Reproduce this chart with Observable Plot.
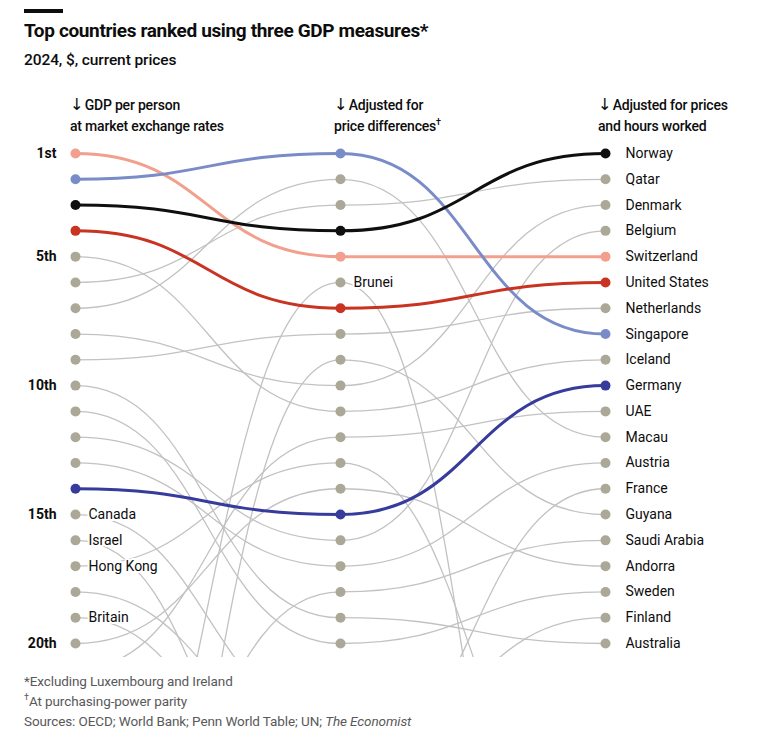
<!DOCTYPE html>
<html><head><meta charset="utf-8">
<script src="https://cdn.jsdelivr.net/npm/d3@7"></script>
<script src="https://cdn.jsdelivr.net/npm/@observablehq/plot@0.6"></script>
<style>
body{margin:0;background:#fff;font-family:Roboto,"Noto Sans",sans-serif;color:#0d0d0d}
#wrap{position:relative;width:760px;height:754px;overflow:hidden;background:#fff}
.abs{position:absolute;white-space:nowrap}
.hdr{font-size:14px;font-weight:500;line-height:21px;letter-spacing:-0.2px}
.arr{font-family:"DejaVu Sans",sans-serif;font-size:16.5px;font-weight:400;margin-right:1px;line-height:0}
.foot{font-size:13.5px;color:#595959;line-height:20px;letter-spacing:-0.1px}
sup{font-size:9px;vertical-align:6px;line-height:0}
#chart{position:absolute;left:0;top:140px}
</style></head><body><div id="wrap">
<div class="abs" style="left:24px;top:9px;width:39px;height:4px;background:#0d0d0d"></div>
<div class="abs" style="left:24px;top:19px;font-size:19px;font-weight:700;letter-spacing:-0.35px">Top countries ranked using three GDP measures*</div>
<div class="abs" style="left:24px;top:51px;font-size:15.5px;font-weight:500;letter-spacing:-0.1px">2024, $, current prices</div>
<div class="abs hdr" style="left:70px;top:95px"><span class="arr">↓</span>GDP per person<br>at market exchange rates</div>
<div class="abs hdr" style="left:334px;top:95px"><span class="arr">↓</span>Adjusted for<br>price differences<sup>†</sup></div>
<div class="abs hdr" style="left:598px;top:95px"><span class="arr">↓</span>Adjusted for prices<br>and hours worked</div>
<div id="chart"></div>
<div class="abs foot" style="left:24px;top:671px">*Excluding Luxembourg and Ireland<br><sup>†</sup>At purchasing-power parity<br>Sources: OECD; World Bank; Penn World Table; UN; <i>The Economist</i></div>
</div>
<script>
// Countries and their rank in each of the three measures (ranks > 20 run off the bottom)
const countries = ["Switzerland","Singapore","Norway","United States","Iceland","Qatar","Macau","Denmark","Netherlands","Australia","Sweden","Belgium","Austria","Germany","Canada","Israel","Hong Kong","Finland","Britain","Andorra","UAE","France","Saudi Arabia","Brunei","Guyana"];
const rankMarket = [1,2,3,4,5,6,7,8,9,10,11,12,13,14,15,16,17,18,19,20,21,22,29,31,38];
const rankPPP    = [5,1,4,7,11,3,2,10,8,19,20,16,17,15,23,29,13,24,27,14,12,25,18,6,9];
const rankHours  = [5,8,1,6,9,2,12,3,7,20,18,4,13,10,24,30,28,19,26,17,11,14,16,40,15];
const highlight = ["Switzerland","Singapore","Norway","United States","Germany"];
const highlightColors = ["#f2a08d","#7a8cc8","#0f0f0f","#c83322","#373c9c"];
const leftLabels = ["Canada","Israel","Hong Kong","Britain"];
const midLabels = ["Brunei"];
const rankTicks = [1,5,10,15,20];
const rankTickLabels = ["1st","5th","10th","15th","20th"];

const colorOf = c => { const i = highlight.indexOf(c); return i < 0 ? null : highlightColors[i]; };
const ranks = countries.map((c,i) => [rankMarket[i], rankPPP[i], rankHours[i]]);
const segs = [];
countries.forEach((c,i) => { for (let k = 0; k < 2; k++) segs.push({c, x1:k, x2:k+1, y1:ranks[i][k], y2:ranks[i][k+1]}); });
const pts = [];
countries.forEach((c,i) => ranks[i].forEach((r,k) => { if (r <= 20) pts.push({c, x:k, y:r}); }));
const graySegs = segs.filter(d => !colorOf(d.c));
const colSegs = segs.filter(d => colorOf(d.c));
const grayPts = pts.filter(d => !colorOf(d.c));
const colPts = pts.filter(d => colorOf(d.c));
const rightLab = pts.filter(d => d.x === 2);
const leftLab = pts.filter(d => d.x === 0 && leftLabels.includes(d.c));
const midLab = pts.filter(d => d.x === 1 && midLabels.includes(d.c));

const chart = Plot.plot({
  width: 760, height: 525,
  marginTop: 0, marginBottom: 8, marginLeft: 0, marginRight: 0,
  x: {type: "linear", domain: [0, 2], range: [75, 605], axis: null},
  y: {type: "linear", domain: [1, 20], range: [13, 503], axis: null},
  color: {type: "identity"},
  style: {fontFamily: "Roboto, 'Noto Sans', sans-serif", fontSize: "14px", background: "white", color: "#0d0d0d"},
  marks: [
    Plot.link(graySegs, {x1: "x1", x2: "x2", y1: "y1", y2: "y2", curve: "bump-x", stroke: "#c2c2c2", strokeWidth: 1.3, clip: true}),
    Plot.link(colSegs, {x1: "x1", x2: "x2", y1: "y1", y2: "y2", curve: "bump-x", stroke: d => colorOf(d.c), strokeWidth: 3, clip: true}),
    Plot.dot(grayPts, {x: "x", y: "y", r: 5, fill: "#aba898"}),
    Plot.dot(colPts, {x: "x", y: "y", r: 5, fill: d => colorOf(d.c)}),
    Plot.text(rankTicks, {x: 0, y: d => d, text: (d,i) => rankTickLabels[i], dx: -19, textAnchor: "end", fontWeight: 700, fontSize: 14}),
    Plot.text(rightLab, {x: "x", y: "y", text: "c", dx: 20, textAnchor: "start", fill: "#0d0d0d"}),
    Plot.text(leftLab.concat(midLab), {x: "x", y: "y", text: "c", dx: 13, textAnchor: "start", fill: "#0d0d0d", stroke: "white", strokeWidth: 4, paintOrder: "stroke"})
  ]
});
document.getElementById("chart").appendChild(chart);
</script>
</body></html>
